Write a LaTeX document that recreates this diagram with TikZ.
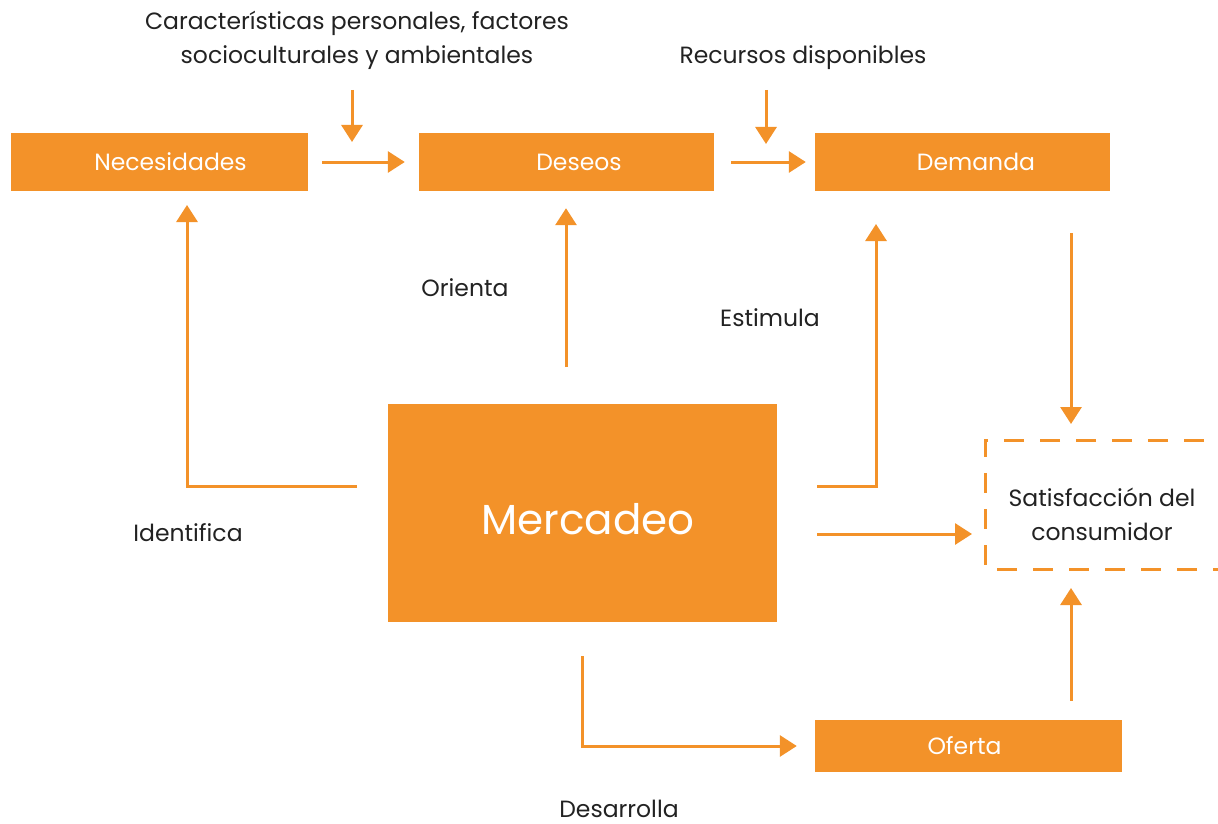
\documentclass[tikz,border=0pt]{standalone}
\usepackage{fontspec}
\setmainfont{Poppins}
\usetikzlibrary{arrows.meta}
\definecolor{orng}{HTML}{F39229}
\definecolor{txt}{HTML}{222222}
\tikzset{
  box/.style={fill=orng, draw=none, text=white, font=\fontsize{23.5}{28}\selectfont, inner sep=0pt},
  lbl/.style={text=txt, font=\fontsize{23.5}{34}\selectfont, align=center, inner sep=0pt},
  arr/.style={draw=orng, line width=3pt, -{Triangle[length=17pt,width=21pt]}},
}
\begin{document}
\begin{tikzpicture}[x=1pt,y=-1pt]
\useasboundingbox (0,0) rectangle (1218,824);
% boxes
\node[box, minimum width=297pt, minimum height=58pt] (nec) at (159.5,162) {\hspace*{22pt}Necesidades};
\node[box, minimum width=295pt, minimum height=58pt] (des) at (566.5,162) {\hspace*{25pt}Deseos};
\node[box, minimum width=295pt, minimum height=58pt] (dem) at (962.5,162) {\hspace*{27pt}Demanda};
\node[box, minimum width=389pt, minimum height=218pt] (mer) at (582.5,513) {};
\node[text=white, font=\fontsize{42}{50}\selectfont, inner sep=0pt] (mert) at (588,519) {Mercadeo};
\node[box, minimum width=307pt, minimum height=52pt] (ofe) at (968.5,746) {\hspace*{-8pt}Oferta};
% dashed box (extends beyond right edge)
\node[lbl] (sat) at (1102,514) {Satisfacción del\\consumidor};
\begin{scope}
\clip (0,0) rectangle (1218,824);
\draw[orng, line width=3pt, dash pattern=on 20pt off 16pt] (1240,440) -- (985,440) -- (985,569) -- (1240,569);
\end{scope}
\coordinate (satw) at (985,534);
\coordinate (satn) at (1071,440);
\coordinate (sats) at (1071,569);
% labels
\node[lbl] (car) at (357,40) {Características personales, factores\\socioculturales y ambientales};
\node[lbl] (rec) at (803,58) {Recursos disponibles};
\node[lbl] (ori) at (465,288) {Orienta};
\node[lbl] (est) at (770,318) {Estimula};
\node[lbl] (ide) at (188,533) {Identifica};
\node[lbl] (desa) at (619,809) {Desarrolla};
% helper coordinates
\coordinate (c1s) at (352,90);
\coordinate (c1e) at (352,142);
\coordinate (c2s) at (766,90);
\coordinate (c2e) at (766,144);
\coordinate (m1) at (357,486);
\coordinate (m2) at (566,367);
\coordinate (m3) at (817,486);
\coordinate (m4) at (817,534);
\coordinate (m5) at (582,656);
% arrows
\draw[arr, shorten <=14pt, shorten >=14pt] (nec.east) -- (des.west);
\draw[arr, shorten <=17pt, shorten >=9pt] (des.east) -- (dem.west);
\draw[arr] (c1s) -- (c1e);
\draw[arr] (c2s) -- (c2e);
\draw[arr, shorten >=14pt] (m1) -- (187,486) -- (187,191);
\draw[arr, shorten >=17pt] (m2) -- (des.south -| m2);
\draw[arr] (m3) -- (876,486) -- (876,224);
\draw[arr, shorten >=13pt] (m4) -- (satw);
\draw[arr, shorten <=42pt, shorten >=16pt] (dem.south -| satn) -- (satn);
\draw[arr, shorten <=19pt, shorten >=19pt] (ofe.north -| sats) -- (sats);
\draw[arr, shorten >=18pt] (m5) -- (582,746) -- (ofe.west);
\end{tikzpicture}
\end{document}
